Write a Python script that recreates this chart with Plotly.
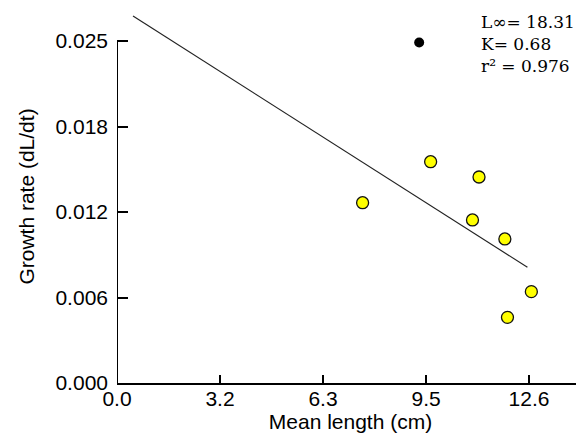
import plotly.graph_objects as go

# Data
pts_x = [7.51, 9.59, 11.07, 10.87, 11.86, 12.67, 11.94]
pts_y = [0.01318, 0.01618, 0.01506, 0.01192, 0.01053, 0.00668, 0.0048]
outlier_x = [9.24]
outlier_y = [0.0249]
fit_x = [0.49, 12.55]
fit_y = [0.02683, 0.00846]

x_tickvals = [0, 3.15, 6.3, 9.45, 12.6]
x_ticktext = ["0.0", "3.2", "6.3", "9.5", "12.6"]
y_tickvals = [0, 0.00625, 0.0125, 0.01875, 0.025]
y_ticktext = ["0.000", "0.006", "0.012", "0.018", "0.025"]

stats_text = "L∞= 18.31<br>K= 0.68<br>r² = 0.976"

fig = go.Figure()
fig.add_trace(go.Scatter(x=fit_x, y=fit_y, mode="lines",
                         line=dict(color="#222222", width=1.2), showlegend=False))
fig.add_trace(go.Scatter(x=pts_x, y=pts_y, mode="markers",
                         marker=dict(color="#FFFF00", size=12, line=dict(color="#111111", width=1.3)),
                         showlegend=False))
fig.add_trace(go.Scatter(x=outlier_x, y=outlier_y, mode="markers",
                         marker=dict(color="#000000", size=10), showlegend=False))

axis_font = dict(family="Liberation Sans, Arial, sans-serif", size=21, color="#000000")

# page body has an 8px margin, so the figure is 8px smaller than the window
fig.update_layout(
    width=576, height=432,
    margin=dict(l=109, r=0, t=2, b=57),
    paper_bgcolor="white", plot_bgcolor="white",
    font=axis_font,
    xaxis=dict(range=[0, 14.28], tickvals=x_tickvals, ticktext=x_ticktext,
               ticks="inside", ticklen=8, tickwidth=1.5, tickcolor="black",
               showline=True, linecolor="black", linewidth=2,
               showgrid=False, zeroline=False, automargin=False,
               title=dict(text="Mean length (cm)", standoff=2, font=axis_font),
               tickfont=axis_font, ticklabelstandoff=-4),
    yaxis=dict(range=[0, 0.02727], tickvals=y_tickvals, ticktext=y_ticktext,
               ticks="inside", ticklen=11, tickwidth=1.5, tickcolor="black",
               showline=False, showgrid=False, zeroline=False, automargin=False,
               title=dict(text="Growth rate (dL/dt)", standoff=15, font=axis_font),
               tickfont=axis_font, ticklabelstandoff=8),
    shapes=[dict(type="line", xref="x", yref="y", x0=0, x1=0, y0=0, y1=0.025,
                 line=dict(color="black", width=2))],
    annotations=[dict(text=stats_text, xref="paper", yref="paper", x=0.775, y=1.0,
                      xanchor="left", yanchor="top", showarrow=False, align="left",
                      font=dict(family="DejaVu Serif, Georgia, serif", size=17, color="#000000"))],
)

fig.write_html("out.html")
